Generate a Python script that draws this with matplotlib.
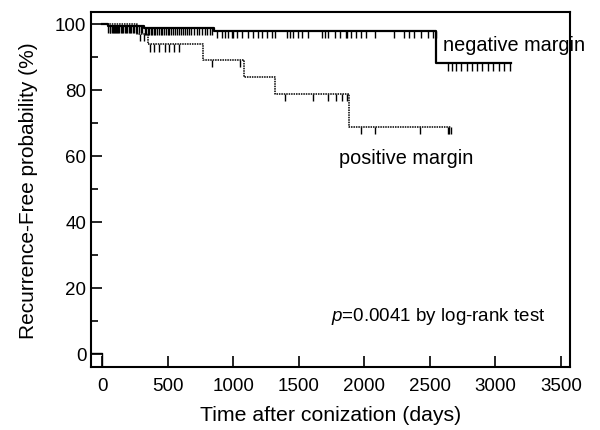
import matplotlib
matplotlib.use('Agg')
import matplotlib.pyplot as plt

plt.rcParams['font.family'] = ['Liberation Sans', 'DejaVu Sans']
plt.rcParams['mathtext.fontset'] = 'custom'
plt.rcParams['mathtext.it'] = 'Liberation Sans:italic'
plt.rcParams['mathtext.rm'] = 'Liberation Sans'

# negative margin: step times (days) and survival (%)
neg_times = [0, 40, 315, 855, 2550, 3120]
neg_surv = [100, 99.4, 98.8, 97.8, 88.0, 88.0]
neg_censor = [45, 55, 62, 70, 80, 88, 95, 105, 115, 122, 130, 140, 150, 160, 172, 180, 190, 200, 212, 222,
              232, 245, 255, 268, 280, 292, 305,
              325, 335, 345, 355, 368, 380, 392, 405, 418, 430, 445, 458, 470, 485, 498, 512, 525, 540,
              555, 570, 585, 600, 615, 630, 648, 665, 680, 700, 720, 740, 760, 780, 800, 820, 840,
              875, 913, 938, 963, 989, 1001, 1027, 1065, 1115, 1153, 1191, 1217, 1255, 1293, 1319,
              1407, 1433, 1458, 1496, 1522, 1572, 1674, 1699, 1724, 1775, 1813, 1863,
              1868, 1901, 1939, 1977, 2015, 2078, 2230, 2306, 2344, 2382, 2433, 2483, 2521, 2547,
              2635, 2673, 2703, 2737, 2782, 2820, 2858, 2901, 2944, 2984, 3028, 3066, 3110]

# positive margin
pos_times = [0, 265, 345, 772, 1085, 1318, 1883, 2665]
pos_surv = [100, 96.9, 93.8, 89.1, 83.9, 78.8, 68.8, 68.8]
pos_censor = [285, 320, 363, 394, 432, 475, 508, 546, 584, 837, 1052,
              1394, 1605, 1724, 1787, 1830, 1871, 1977, 2084, 2426, 2635, 2648, 2661]


def level_at(times, surv, t):
    val = surv[0]
    for ti, si in zip(times, surv):
        if ti <= t:
            val = si
    return val


fig = plt.figure(figsize=(6, 4.31), dpi=100)
ax = fig.add_axes([0.152, 0.146, 0.798, 0.824])

ax.step(neg_times, neg_surv, where='post', color='black', lw=1.6)
ax.step(pos_times, pos_surv, where='post', color='black', lw=1.1, ls=(0, (1, 0.6)))

tick_len = 2.2
for t in neg_censor:
    y = level_at(neg_times, neg_surv, t)
    ax.vlines(t, y - tick_len, y, color='black', lw=1.0)
for t in pos_censor:
    y = level_at(pos_times, pos_surv, t)
    ax.vlines(t, y - tick_len, y, color='black', lw=1.0)

# small mark at the origin
ax.plot([-85, 0, 0], [0.2, 0.2, -4], color='black', lw=1.0)

ax.text(2600, 93.7, 'negative margin', fontsize=14.3, va='center')
ax.text(1810, 59.5, 'positive margin', fontsize=14.3, va='center')
ax.text(1745, 11.5, r'$p$=0.0041 by log-rank test', fontsize=13.5, va='center')

ax.set_xlim(-85, 3570)
ax.set_ylim(-4, 103.6)
ax.set_xticks(range(0, 3501, 500))
ax.set_yticks(range(0, 101, 20))
ax.set_yticks(range(10, 100, 20), minor=True)
ax.tick_params(axis='both', direction='in', labelsize=13.5, width=1.2, length=8)
ax.tick_params(axis='y', which='minor', direction='in', width=1.2, length=5)
ax.tick_params(axis='x', pad=7)
for s in ax.spines.values():
    s.set_linewidth(1.5)

ax.set_xlabel('Time after conization (days)', fontsize=15.3, labelpad=8)
ax.set_ylabel('Recurrence-Free probability (%)', fontsize=15, labelpad=12)

fig.savefig('out.png', dpi=100)
